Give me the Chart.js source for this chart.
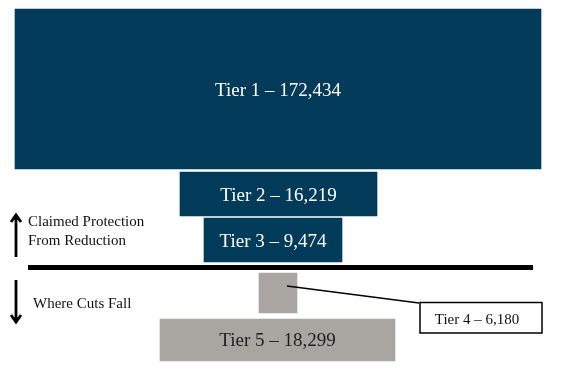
<!DOCTYPE html>
<html>
<head>
<meta charset="utf-8">
<script src="https://cdn.jsdelivr.net/npm/chart.js@4"></script>
<style>
  html, body { margin: 0; padding: 0; background: #fff; }
  #c { display: block; }
</style>
</head>
<body>
<canvas id="c" width="581" height="377"></canvas>
<script>
// data
const tiers = ['Tier 1', 'Tier 2', 'Tier 3', 'Tier 4', 'Tier 5'];
const counts = [172434, 16219, 9474, 6180, 18299];
const protectedTier = [true, true, true, false, false];

// diagram geometry (axis units = pixels of the 581x377 picture)
const spanFrom = [15, 180, 204, 259, 160];
const spanTo = [541, 377, 342, 297, 395];
const rowCenter = [89, 194, 240, 293, 340];
const rowThickness = [160, 44, 44, 40, 42];

const navy = '#023a59';
const grey = '#a9a6a1';

const fmt = n => n.toLocaleString('en-US');

const datasets = tiers.map((t, i) => ({
    label: t,
    data: [{ x: [spanFrom[i], spanTo[i]], y: rowCenter[i] }],
    backgroundColor: protectedTier[i] ? navy : grey,
    borderWidth: 0,
    barThickness: rowThickness[i],
    grouped: false
}));

const decor = {
    id: 'decor',
    afterDatasetsDraw(chart) {
        const ctx = chart.ctx;
        const xs = chart.scales.x, ys = chart.scales.y;
        const X = v => xs.getPixelForValue(v);
        const Y = v => ys.getPixelForValue(v);
        ctx.save();

        // labels inside boxes
        tiers.forEach((t, i) => {
            if (i === 3) return;
            const el = chart.getDatasetMeta(i).data[0];
            const cx = (el.x + el.base) / 2;
            ctx.font = '19px "Liberation Serif", serif';
            ctx.fillStyle = protectedTier[i] ? '#ffffff' : '#1e1e1e';
            ctx.textAlign = 'center';
            ctx.textBaseline = 'alphabetic';
            ctx.fillText(t + ' \u2013 ' + fmt(counts[i]), cx, el.y + (i === 4 ? 6 : 7));
        });

        // separator line
        ctx.strokeStyle = '#000';
        ctx.lineWidth = 5;
        ctx.beginPath();
        ctx.moveTo(X(28), Y(267.5));
        ctx.lineTo(X(533), Y(267.5));
        ctx.stroke();

        // arrows
        ctx.lineWidth = 2.8;
        ctx.lineCap = 'butt';
        const arrow = (x, y0, y1) => {
            const d = y1 > y0 ? 1 : -1;
            ctx.beginPath();
            ctx.moveTo(X(x), Y(y0));
            ctx.lineTo(X(x), Y(y1));
            ctx.moveTo(X(x - 5), Y(y1 - d * 7));
            ctx.lineTo(X(x), Y(y1));
            ctx.lineTo(X(x + 5), Y(y1 - d * 7));
            ctx.stroke();
        };
        arrow(16, 257, 215);
        arrow(16, 280, 322);

        // side notes
        ctx.fillStyle = '#111';
        ctx.textAlign = 'left';
        ctx.font = '15px "Liberation Serif", serif';
        ctx.fillText('Claimed Protection', X(28), Y(226));
        ctx.fillText('From Reduction', X(28), Y(245));
        ctx.fillText('Where Cuts Fall', X(33), Y(308));

        // tier 4 callout
        const el4 = chart.getDatasetMeta(3).data[0];
        ctx.strokeStyle = '#000';
        ctx.lineWidth = 1.3;
        ctx.beginPath();
        ctx.moveTo((el4.x + el4.base) / 2 + 9, el4.y - 7);
        ctx.lineTo(X(419), Y(303));
        ctx.stroke();
        ctx.lineWidth = 1.5;
        ctx.fillStyle = '#fff';
        ctx.fillRect(X(420), Y(302.5), X(542) - X(420), Y(333) - Y(302.5));
        ctx.strokeRect(X(420), Y(302.5), X(542) - X(420), Y(333) - Y(302.5));
        ctx.fillStyle = '#111';
        ctx.textAlign = 'center';
        ctx.font = '15px "Liberation Serif", serif';
        ctx.fillText(tiers[3] + ' \u2013 ' + fmt(counts[3]), X(477), Y(324));

        ctx.restore();
    }
};

new Chart(document.getElementById('c').getContext('2d'), {
    type: 'bar',
    data: { datasets },
    options: {
        indexAxis: 'y',
        responsive: false,
        animation: false,
        layout: { padding: 0 },
        scales: {
            x: { type: 'linear', min: 0, max: 581, display: false, offset: false },
            y: { type: 'linear', min: 0, max: 377, reverse: true, display: false, offset: false }
        },
        plugins: {
            legend: { display: false },
            tooltip: { enabled: false }
        }
    },
    plugins: [decor]
});
</script>
</body>
</html>
